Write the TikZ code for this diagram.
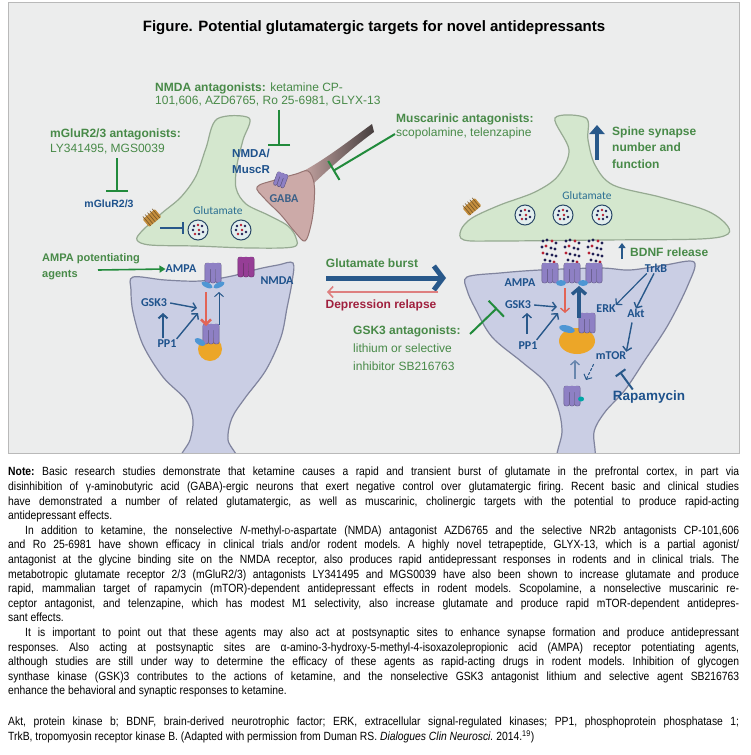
\documentclass[tikz,border=0pt]{standalone}
\usepackage{fontspec}
\setmainfont{Liberation Sans}
\newfontfamily\notefont[FakeStretch=0.87]{Liberation Sans}
\newfontfamily\cellfont{Carlito}
\usepackage{xcolor}
\usepackage{tikz}
\usetikzlibrary{positioning,arrows.meta,shapes}

\definecolor{panelbg}{RGB}{236,237,237}
\definecolor{panelline}{RGB}{185,185,185}
\definecolor{agentgreen}{RGB}{72,138,72}
\definecolor{tbargreen}{RGB}{34,139,60}
\definecolor{labelblue}{RGB}{30,82,140}
\definecolor{arrowblue}{RGB}{40,88,138}
\definecolor{relapsered}{RGB}{160,32,62}
\definecolor{pinkarrow}{RGB}{222,128,128}
\definecolor{redarrow}{RGB}{226,100,86}
\definecolor{presynfill}{RGB}{212,231,206}
\definecolor{presynedge}{RGB}{150,170,146}
\definecolor{spinefill}{RGB}{202,206,228}
\definecolor{spineedge}{RGB}{128,132,158}
\definecolor{gabafill}{RGB}{204,170,168}
\definecolor{gabaedge}{RGB}{150,116,114}
\definecolor{gabadark}{RGB}{70,62,62}
\definecolor{rcptpurple}{RGB}{142,128,196}
\definecolor{nmdamag}{RGB}{150,62,150}
\definecolor{wingblue}{RGB}{78,150,212}
\definecolor{endocol}{RGB}{236,166,40}
\definecolor{mglurcol}{RGB}{196,142,62}
\definecolor{vesfill}{RGB}{226,238,238}
\definecolor{vesedge}{RGB}{42,72,104}
\definecolor{glunavy}{RGB}{32,32,84}
\definecolor{glured}{RGB}{182,32,52}
\definecolor{glutext}{RGB}{42,110,146}

\tikzset{
agent/.style={text=agentgreen, font=\fontsize{12}{14}\selectfont, align=left, inner sep=0pt},
agent head/.style={agent, font=\bfseries\fontsize{12}{14}\selectfont},
cell/.style={text=labelblue, font=\cellfont\bfseries\fontsize{12}{13}\selectfont, inner sep=0pt},
inhib/.style={draw=tbargreen, line width=2pt, -{Bar[width=22pt]}},
sig/.style={draw=arrowblue, line width=1.4pt, -{Straight Barb[length=4pt,width=9pt]}},
presyn/.style={fill=presynfill, draw=presynedge, line width=1.2pt},
spine/.style={fill=spinefill, draw=spineedge, line width=1.2pt},
gaba/.style={fill=gabafill, draw=gabaedge, line width=1pt}
}

\newcommand{\recep}[3]{%
  \begin{scope}[shift={#1}, rotate=#3]
    \foreach \dx in {-5.4,0,5.4}
      \filldraw[fill=#2, draw=#2!65!black, line width=0.4pt, rounded corners=2pt] (\dx-2.7,-10) rectangle (\dx+2.7,10);
    \fill[#2, rounded corners=2pt] (-7.8,-10) rectangle (7.8,-4);
  \end{scope}}
\newcommand{\wings}[1]{%
  \begin{scope}[shift={#1}]
    \fill[wingblue] (-6,0) ellipse [x radius=6, y radius=2.6, rotate=-25];
    \fill[wingblue] (6,0) ellipse [x radius=6, y radius=2.6, rotate=25];
  \end{scope}}
\newcommand{\mglur}[2]{%
  \begin{scope}[shift={#1}, rotate=#2]
    \fill[mglurcol, rounded corners=1pt] (-8,-5) rectangle (8,5);
    \foreach \dx in {-6,-3,0,3,6}
      \draw[mglurcol!60!black, line width=0.6pt] (\dx,-7) -- (\dx,5);
  \end{scope}}
\newcommand{\vesic}[1]{%
  \begin{scope}[shift={#1}]
    \filldraw[fill=vesfill, draw=vesedge, line width=1pt] (0,0) circle (10);
    \foreach \dx/\dy/\c in {-4/-4/glunavy,0/-5/glured,4/-4/glunavy,-5/0/glunavy,-3/4/glured,1/4/glunavy,5/2/glunavy,1/0/glured}
      \fill[\c] (\dx,\dy) circle (1.4);
  \end{scope}}

\begin{document}
\begin{tikzpicture}[x=1pt,y=-1pt]
\useasboundingbox (0,0) rectangle (750,755);
\fill[white] (0,0) rectangle (750,755);
\fill[panelbg] (8,2) rectangle (739,453);

\node[font=\bfseries\fontsize{15}{17}\selectfont] (title) at (374,28) {Figure. Potential glutamatergic targets for novel antidepressants};

\begin{scope}
\clip (8,2) rectangle (739,453);
\path[presyn] plot[smooth cycle, tension=0.55] coordinates {(217,119) (249,118) (243,140) (237,165) (236,188) (246,204) (268,215) (288,226) (296,238) (293,247) (250,248) (195,246) (150,245) (137,240) (142,231) (162,213) (181,197) (196,176) (206,148)};
\shade[left color=gabafill, right color=gabadark] (298,174) .. controls (325,160) and (350,140) .. (372,124) -- (374,132) .. controls (352,148) and (330,168) .. (313,184) -- cycle;
\path[gaba] plot[smooth cycle, tension=0.6] coordinates {(257,187) (275,180) (296,174) (308,171) (314,183) (314,204) (311,225) (305,241) (295,232) (281,215) (265,199)};
\path[presyn] plot[smooth cycle, tension=0.55] coordinates {(555,118) (586,118) (588,140) (595,165) (613,185) (660,197) (705,210) (725,223) (728,234) (700,239) (600,240) (500,241) (464,240) (461,230) (472,218) (500,205) (535,192) (558,176) (569,150)};
\path[spine] plot[smooth cycle, tension=0.55] coordinates {(133,277) (165,280) (200,281) (232,276) (258,269) (278,265) (293,263) (292,282) (287,308) (281,337) (266,370) (245,398) (232,418) (228,440) (236,462) (182,462) (190,440) (193,420) (186,400) (163,377) (143,345) (133,312) (131,290)};
\path[spine] plot[smooth cycle, tension=0.55] coordinates {(467,277) (500,273) (540,270) (600,268) (630,270) (665,265) (694,262) (688,285) (668,325) (645,360) (625,390) (605,412) (594,432) (593,462) (558,462) (562,432) (558,408) (546,383) (522,362) (492,337) (475,308) (467,290)};
\end{scope}
\draw[panelline] (8,2) rectangle (739,453);

\mglur{(152,218)}{40}
\mglur{(472,207)}{40}
\vesic{(198,230)}
\vesic{(241,230)}
\vesic{(525,215)}
\vesic{(563,215)}
\vesic{(602,215)}
\begin{scope}[scale=0.7]
\recep{(401,257)}{rcptpurple}{-20}
\end{scope}

\node[cell, text=glutext, font=\cellfont\fontsize{11.5}{12}\selectfont] (gluL) at (218,211) {Glutamate};
\node[cell, text=glutext, font=\cellfont\fontsize{11.5}{12}\selectfont] (gluR) at (587,196) {Glutamate};
\node[cell, text=labelblue!70!gray] (gabaL) at (284,199) {GABA};
\node[cell, font=\bfseries\fontsize{11.5}{16}\selectfont, align=left, anchor=west] (muscR) at (232,161) {NMDA/\\MuscR};
\node[cell, font=\bfseries\fontsize{10.5}{12}\selectfont] (mgluR) at (109,204) {mGluR2/3};

\node[agent, anchor=north west, font=\fontsize{12}{13.5}\selectfont] (nmdaAg) at (155,82.5) {\textbf{NMDA antagonists:} ketamine CP-\\101,606, AZD6765, Ro 25-6981, GLYX-13};
\node[agent, anchor=north west, font=\fontsize{12}{15}\selectfont] (mgluAg) at (50,128.5) {\textbf{mGluR2/3 antagonists:}\\LY341495, MGS0039};
\node[agent, anchor=north west, font=\fontsize{12}{14}\selectfont] (muscAg) at (396,113.5) {\textbf{Muscarinic antagonists:}\\scopolamine, telenzapine};
\node[agent head, anchor=north west, font=\bfseries\fontsize{11}{16}\selectfont] (ampaAg) at (42,253) {AMPA potentiating\\agents};
\node[agent, anchor=north west, font=\fontsize{12}{18}\selectfont] (gskAg) at (353,325.5) {\textbf{GSK3 antagonists:}\\lithium or selective\\inhibitor SB216763};
\node[agent head, anchor=north west, font=\bfseries\fontsize{12}{16.5}\selectfont] (spineAg) at (612,126.5) {Spine synapse\\number and\\function};
\node[agent head] (burst) at (372,263) {Glutamate burst};
\node[agent head, text=relapsered] (relapse) at (381,305) {Depression relapse};
\node[agent head, anchor=west] (bdnf) at (630,252) {BDNF release};
\node[cell, font=\bfseries\fontsize{13.5}{15}\selectfont] (rapa) at (649,397) {Rapamycin};

\coordinate (nmdaT) at (279,146);
\coordinate (mgluT) at (117,192);
\coordinate (muscFrom) at (395,134);
\coordinate (muscT) at (333,171);
\coordinate (gskFrom) at (470,334);
\coordinate (gskT) at (497,308);
\draw[inhib] (nmdaAg.south -| nmdaT) ++(0,3) -- (nmdaT);
\draw[inhib] (mgluAg.south -| mgluT) ++(0,4) -- (mgluT);
\draw[inhib] (muscFrom) -- (muscT);
\draw[inhib] (gskFrom) -- (gskT);

\coordinate (mgluFrom) at (160,228);
\coordinate (mgluTo) at (184,228);
\draw[arrowblue, line width=1.6pt, -{Bar[width=12pt]}] (mgluFrom) -- (mgluTo);

\coordinate (ampaFrom) at (98,270);
\node[cell] (ampaL) at (181,269) {AMPA};
\draw[tbargreen, line width=1.6pt, -{Triangle[length=6pt,width=7pt]}] (ampaFrom) -- (ampaL.west);
\recep{(213,273)}{rcptpurple}{0}
\wings{(213,285)}
\recep{(246,267)}{nmdamag}{0}
\node[cell] (nmdaL) at (277,281) {NMDA};
\fill[endocol] (210,349) circle (12);
\recep{(211,334)}{rcptpurple}{0}
\fill[wingblue] (200,342) ellipse [x radius=6, y radius=3, rotate=-30];
\node[cell] (gskL) at (154,303) {GSK3};
\node[cell] (ppL) at (167,344) {PP1};
\coordinate (redL1) at (206,292);
\coordinate (redL2) at (206,326);
\coordinate (upL1) at (219,325);
\coordinate (upL2) at (219,292);
\coordinate (gskLto) at (197,308);
\coordinate (ppLto) at (198,313);
\draw[redarrow, line width=2.4pt, -{Straight Barb[length=5pt,width=10pt]}] (redL1) -- (redL2);
\draw[sig, line width=1pt] (upL1) -- (upL2);
\draw[sig] (gskL.east) ++(3,0) -- (gskLto);
\draw[sig, line width=2pt] (ppL.north -| 163,0) ++(0,-2) -- (163,313);
\draw[sig] (ppL.north east) ++(0,-1) -- (ppLto);

\coordinate (burstFrom) at (326,278);
\coordinate (burstTo) at (446,278);
\draw[arrowblue, line width=5pt, -{Straight Barb[length=9pt,width=24pt]}] (burstFrom) -- (burstTo);
\coordinate (relFrom) at (438,292);
\coordinate (relTo) at (327,292);
\draw[pinkarrow, line width=1.6pt, -{Straight Barb[length=5pt,width=11pt]}] (relFrom) -- (relTo);

\foreach \cx in {549,572,595}{
  \foreach \dx/\dy/\c in {-6/-11/glunavy,-2/-12/glunavy,3/-11/glured,7/-9/glunavy,-7/-5/glunavy,-3/-6/glured,2/-4/glunavy,6/-3/glunavy,-6/1/glured,-2/2/glunavy,3/3/glunavy,7/4/glunavy,-4/8/glunavy,1/9/glunavy,5/10/glured}
    \fill[\c] (\cx+\dx,252+\dy) circle (1.6);
}
\recep{(550,273)}{rcptpurple}{0}
\recep{(572,273)}{rcptpurple}{0}
\recep{(594,273)}{rcptpurple}{0}
\fill[wingblue] (561,283) ellipse [x radius=5, y radius=3];
\fill[wingblue] (583,283) ellipse [x radius=5, y radius=3];
\node[cell] (ampaR) at (520,283) {AMPA};
\fill[endocol] (577,341) ellipse [x radius=18, y radius=13];
\recep{(587,323)}{rcptpurple}{0}
\fill[wingblue] (567,329) ellipse [x radius=8, y radius=3.5, rotate=-15];
\recep{(572,396)}{rcptpurple}{0}
\fill[teal!70!cyan] (581,399) ellipse [x radius=3, y radius=2.5];

\node[cell] (gskR) at (518,305) {GSK3};
\node[cell] (ppR) at (528,346) {PP1};
\node[cell] (trkb) at (656,268) {TrkB};
\node[cell] (erk) at (606,309) {ERK};
\node[cell] (akt) at (636,313) {Akt};
\node[cell] (mtor) at (611,356) {mTOR};
\coordinate (redR1) at (565,288);
\coordinate (redR2) at (565,313);
\coordinate (upR1) at (579,318);
\coordinate (upR2) at (579,286);
\draw[redarrow, line width=1.4pt, -{Straight Barb[length=4pt,width=9pt]}] (redR1) -- (redR2);
\draw[sig, line width=3.4pt, -{Straight Barb[length=6pt,width=14pt]}] (upR1) -- (upR2);
\coordinate (gskRto) at (557,307);
\coordinate (ppRto) at (558,313);
\draw[sig] (gskR.east) ++(3,0) -- (gskRto);
\draw[sig] (527,334) -- (527,313);
\draw[sig] (ppR.north east) ++(-1,-2) -- (ppRto);
\draw[sig, line width=1.2pt] (trkb.south west) ++(2,1) -- (erk.north east);
\draw[sig] (trkb.south) ++(-2,1) -- (akt.north);
\draw[sig] (akt.south) ++(-4,5) -- (mtor.north east);
\coordinate (recLow) at (586,380);
\draw[sig, line width=1pt, dash pattern=on 3pt off 1.5pt] (mtor.south west) ++(-2,4) -- (recLow);
\coordinate (endoLow) at (575,360);
\draw[sig, line width=1.4pt, draw=arrowblue!60!spinefill] (575,379) -- (endoLow);
\draw[arrowblue, line width=2pt, -{Bar[width=12pt]}] (rapa.north west) ++(20,-1) -- (620,372);
\coordinate (bdnfTo) at (622,243);
\draw[arrowblue, line width=2pt, -{Triangle[length=5pt,width=7pt]}] (622,259) -- (bdnfTo);
\coordinate (spineFrom) at (597,160);
\coordinate (spineTo) at (597,125);
\draw[arrowblue, line width=4.5pt, -{Triangle[length=9pt,width=15pt]}] (spineFrom) -- (spineTo);

\node[anchor=north west, inner sep=0pt, text width=731pt, align=justify, font=\notefont\fontsize{11.9}{14.6}\selectfont] (note) at (8,467) {\frenchspacing\hyphenpenalty=10000\exhyphenpenalty=10000%
\textbf{Note:} Basic research studies demonstrate that ketamine causes a rapid and transient burst of glutamate in the prefrontal cortex, in part via\linebreak
disinhibition of γ-aminobutyric acid (GABA)-ergic neurons that exert negative control over glutamatergic firing. Recent basic and clinical studies\linebreak
have demonstrated a number of related glutamatergic, as well as muscarinic, cholinergic targets with the potential to produce rapid-acting\linebreak
antidepressant effects.\par
\hspace*{17pt}In addition to ketamine, the nonselective \textit{N}-methyl-{\fontsize{8.5}{8}\selectfont D}-aspartate (NMDA) antagonist AZD6765 and the selective NR2b antagonists CP-101,606\linebreak
and Ro 25-6981 have shown efficacy in clinical trials and/or rodent models. A highly novel tetrapeptide, GLYX-13, which is a partial agonist/\linebreak
antagonist at the glycine binding site on the NMDA receptor, also produces rapid antidepressant responses in rodents and in clinical trials. The\linebreak
metabotropic glutamate receptor 2/3 (mGluR2/3) antagonists LY341495 and MGS0039 have also been shown to increase glutamate and produce\linebreak
rapid, mammalian target of rapamycin (mTOR)-dependent antidepressant effects in rodent models. Scopolamine, a nonselective muscarinic re-\linebreak
ceptor antagonist, and telenzapine, which has modest M1 selectivity, also increase glutamate and produce rapid mTOR-dependent antidepres-\linebreak
sant effects.\par
\hspace*{17pt}It is important to point out that these agents may also act at postsynaptic sites to enhance synapse formation and produce antidepressant\linebreak
responses. Also acting at postsynaptic sites are α-amino-3-hydroxy-5-methyl-4-isoxazolepropionic acid (AMPA) receptor potentiating agents,\linebreak
although studies are still under way to determine the efficacy of these agents as rapid-acting drugs in rodent models. Inhibition of glycogen\linebreak
synthase kinase (GSK)3 contributes to the actions of ketamine, and the nonselective GSK3 antagonist lithium and selective agent SB216763\linebreak
enhance the behavioral and synaptic responses to ketamine.};

\node[anchor=north west, inner sep=0pt, text width=731pt, align=justify, font=\notefont\fontsize{11.9}{14.6}\selectfont] (abbrev) at (8,717) {\frenchspacing\hyphenpenalty=10000%
Akt, protein kinase b; BDNF, brain-derived neurotrophic factor; ERK, extracellular signal-regulated kinases; PP1, phosphoprotein phosphatase 1;\linebreak
TrkB, tropomyosin receptor kinase B. (Adapted with permission from Duman RS. \textit{Dialogues Clin Neurosci.} 2014.\textsuperscript{19})};
\end{tikzpicture}
\end{document}
